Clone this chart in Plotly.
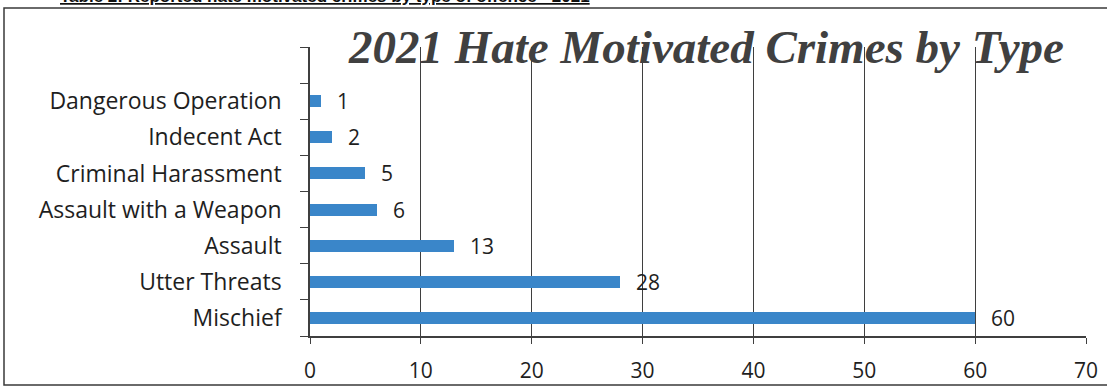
import plotly.graph_objects as go

# Offence categories, listed bottom to top on the chart
categories = [
    "Mischief",
    "Utter Threats",
    "Assault",
    "Assault with a Weapon",
    "Criminal Harassment",
    "Indecent Act",
    "Dangerous Operation",
]
counts = [60, 28, 13, 6, 5, 2, 1]
x_ticks = [0, 10, 20, 30, 40, 50, 60, 70]

title_text = "2021 Hate Motivated Crimes by Type"
header_text = "Table 2: Reported hate motivated crimes by type of offence - 2021"

W, H = 1107, 386
ML, MR, MT, MB = 310, 21, 47, 50
PW, PH = W - ML - MR, H - MT - MB

BAR_COLOR = "#3a86c9"
TEXT_COLOR = "#1e1e1e"
LINE_COLOR = "#3f3f3f"
FONT = "Open Sans"

positions = list(range(len(categories)))
n_slots = len(categories) + 1  # one empty slot above the top bar

fig = go.Figure()
fig.add_trace(
    go.Bar(
        x=counts,
        y=positions,
        orientation="h",
        width=0.33,
        marker=dict(color=BAR_COLOR, line=dict(width=0)),
        hoverinfo="x+y",
    )
)

# value labels just past the end of each bar
for v, p in zip(counts, positions):
    fig.add_annotation(
        x=v, y=p, xref="x", yref="y",
        text=str(v), showarrow=False,
        xanchor="left", yanchor="middle", xshift=14,
        font=dict(family=FONT, size=21, color=TEXT_COLOR),
    )


def px_x(px):
    return (px - ML) / PW


def px_y(py):
    return (H - MB - py) / PH


# chart title
fig.add_annotation(
    x=px_x(706), y=px_y(47), xref="paper", yref="paper",
    text=f"<b><i>{title_text}</i></b>", showarrow=False,
    xanchor="center", yanchor="middle",
    font=dict(family="Liberation Serif", size=47, color="#404040"),
)

# document caption running off the top of the page
fig.add_annotation(
    x=px_x(592), y=px_y(8), xref="paper", yref="paper",
    text=f"<b><u>{header_text}</u></b>", showarrow=False,
    xanchor="right", yanchor="bottom",
    font=dict(family="Liberation Sans", size=17, color="#111111"),
)

# outer frame around the chart object
fig.add_shape(
    type="rect", xref="paper", yref="paper",
    x0=px_x(4), x1=px_x(1125), y0=px_y(385), y1=px_y(8),
    line=dict(color="#3a3a3a", width=1.5), fillcolor="rgba(0,0,0,0)",
    layer="below",
)

fig.update_layout(
    width=W, height=H,
    margin=dict(l=ML, r=MR, t=MT, b=MB, pad=0),
    paper_bgcolor="white", plot_bgcolor="white",
    showlegend=False,
    bargap=0,
    font=dict(family=FONT, color=TEXT_COLOR),
)

fig.update_xaxes(
    range=[0, 70],
    tickvals=x_ticks,
    ticktext=[str(t) for t in x_ticks],
    showgrid=True, gridcolor=LINE_COLOR, gridwidth=1,
    zeroline=False,
    showline=True, linecolor=LINE_COLOR, linewidth=1.5,
    ticks="outside", ticklen=6, tickcolor=LINE_COLOR,
    ticklabelstandoff=9,
    automargin=False,
    tickfont=dict(family=FONT, size=21, color=TEXT_COLOR),
)

fig.update_yaxes(
    range=[-0.5, n_slots - 0.5],
    tickvals=positions,
    ticktext=categories,
    ticks="",
    showgrid=False, zeroline=False,
    showline=True, linecolor=LINE_COLOR, linewidth=1.5,
    ticklabelstandoff=22,
    automargin=False,
    tickfont=dict(family=FONT, size=23, color=TEXT_COLOR),
    minor=dict(
        tickvals=[i - 0.5 for i in range(n_slots + 1)],
        ticks="outside", ticklen=8, tickcolor=LINE_COLOR, showgrid=False,
    ),
)

fig.write_html("out.html")
